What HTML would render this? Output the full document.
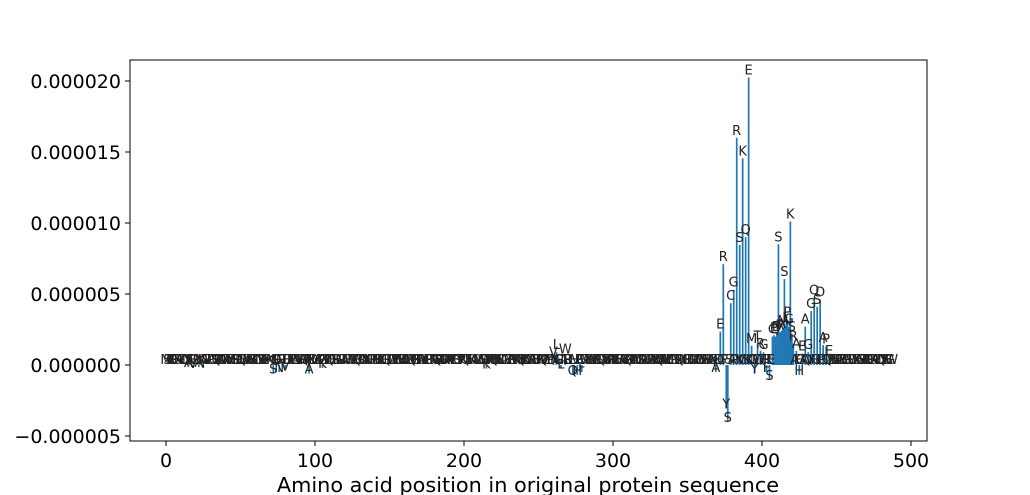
<!DOCTYPE html>
<html><head><meta charset="utf-8"><style>
body{margin:0;background:#fff;}
svg{display:block;font-family:"DejaVu Sans","Liberation Sans",sans-serif;}
</style></head><body>
<svg id="chart" width="1030" height="495">
<rect x="130" y="60" width="797" height="381" fill="#fff" stroke="#000" stroke-width="1"/>
<g id="bars"></g>
<g id="labels"></g>
<g id="axes"></g>
<text x="528" y="492" text-anchor="middle" font-size="20.8">Amino acid position in original protein sequence</text>
</svg>
<script>
const seq = "MSTRLPEGKAVLDQNTFHSGWIEYKRAVLTPDGSQEFKLMNRAVHTGSDPLQEWKIAVRSLTGNYDEFPAKMLSQGVNRTHEDIKPLASVGFWQTRNEKDLMASPYGTVKQHEISRLNPDAFGTWVSKQEMLRDAYNGHPTSVKLFECQRIDGAVTSNPKWELMHQYGRSTDAVKLPEIFNGQRSWTDHMAKVLESGYPRNQTFIDKACLMWSGVETRPHQNDKSLIAGFYTERVKWMQSPLDNGHATESIRKQVFLYPDWNMGCSTAKERILQHVDPFGSNWTKMEYALRSQDIVGTHPNKFLESWAGYQRMTDKCVISPLNEHGFATRWQDKSMYVELGPNTRQAKISHDFLGVMCEWYTSNRPAQKLEDIGHFTVSRAKPSYRVCGLKRKSQAEPWNFTHDRVECLSAPKTSQGMNRDLATEKGSAYQGVSKDHALRPTSSQGMENKSTASPSLGRSEDTSKAS";
const barPos = [15,18,22,25,72,76,80,96,105,215,260,262,265,268,273,276,279,369,372,374,376,377,379,381,383,385,387,389,391,393,395,397,399,401,403,405,407,408,409,410,411,412,413,414,415,416,417,418,419,420,421,423,425,427,429,431,433,435,437,439,441,443,445];
const barVal = [-0.15,-0.2,-0.15,-0.2,-0.6,-0.5,-0.4,-0.6,-0.2,-0.25,0.4,0.9,-0.25,0.6,-0.7,-0.7,-0.5,-0.5,2.35,7.1,-3.05,-4.0,4.35,5.3,16.0,8.45,14.55,9.0,20.25,1.35,-0.6,1.5,1.0,0.9,-0.5,-1.05,2.0,2.1,2.0,2.2,8.5,2.3,2.4,2.6,6.05,2.8,3.2,2.7,10.1,2.2,1.5,1.0,-0.7,0.8,2.7,0.9,3.8,4.75,4.1,4.6,1.4,1.3,0.5];
const barLab = ["A","V","A","Y","S","N","V","A","K","K","V","L","L","W","Q","H","F","A","E","R","Y","S","C","G","R","S","K","Q","E","M","Y","T","R","G","F","S","C","P","Q","D","S","R","A","M","S","L","P","G","K","S","R","A","H","E","A","G","G","Q","S","D","A","P","E"];
const yTicks = [-0.000005,0,0.000005,0.00001,0.000015,0.00002];
const yTickLabels = ["\u22120.000005","0.000000","0.000005","0.000010","0.000015","0.000020"];
const xTicks = [0,100,200,300,400,500];

const NS="http://www.w3.org/2000/svg";
function xs(p){return 166+p*1.49;}
function ys(v){return 365-v*14.2;} // v in 1e-6 units
const bars=document.getElementById('bars'),labels=document.getElementById('labels'),axes=document.getElementById('axes');
const posSet=new Set(barPos);
for(let i=0;i<barPos.length;i++){
  const v=barVal[i],x=xs(barPos[i]);
  const r=document.createElementNS(NS,'rect');
  r.setAttribute('x',x-0.8);r.setAttribute('width',1.7);
  r.setAttribute('y',Math.min(ys(v),ys(0)));r.setAttribute('height',Math.abs(ys(v)-ys(0)));
  r.setAttribute('fill','#1f77b4');
  
  
  bars.appendChild(r);
  const t=document.createElementNS(NS,'text');
  t.setAttribute('x',x);t.setAttribute('y',v>0?ys(v)-3:ys(v));
  t.setAttribute('text-anchor','middle');t.setAttribute('font-size','13');t.setAttribute('fill','#222');
  t.textContent=barLab[i];
  
  
  labels.appendChild(t);
}
for(let p=0;p<488;p++){
  if(posSet.has(p))continue;
  const t=document.createElementNS(NS,'text');
  t.setAttribute('x',xs(p));t.setAttribute('y',364);
  t.setAttribute('text-anchor','middle');t.setAttribute('font-size','13');t.setAttribute('fill','#222');
  t.textContent=seq[p%seq.length];
  
  
  labels.appendChild(t);
}
yTicks.forEach((v,i)=>{
  const y=ys(v*1e6);
  const l=document.createElementNS(NS,'line');
  l.setAttribute('x1',125);l.setAttribute('x2',130);l.setAttribute('y1',y);l.setAttribute('y2',y);l.setAttribute('stroke','#000');
  
  
  axes.appendChild(l);
  const t=document.createElementNS(NS,'text');
  t.setAttribute('x',121);t.setAttribute('y',y+7);t.setAttribute('text-anchor','end');t.setAttribute('font-size','19');
  t.textContent=yTickLabels[i];
  
  
  axes.appendChild(t);
});
xTicks.forEach(v=>{
  const x=xs(v);
  const l=document.createElementNS(NS,'line');
  l.setAttribute('x1',x);l.setAttribute('x2',x);l.setAttribute('y1',441);l.setAttribute('y2',446);l.setAttribute('stroke','#000');
  
  
  axes.appendChild(l);
  const t=document.createElementNS(NS,'text');
  t.setAttribute('x',x);t.setAttribute('y',467);t.setAttribute('text-anchor','middle');t.setAttribute('font-size','19');
  t.textContent=String(v);
  
  
  axes.appendChild(t);
});
</script>
</body></html>
